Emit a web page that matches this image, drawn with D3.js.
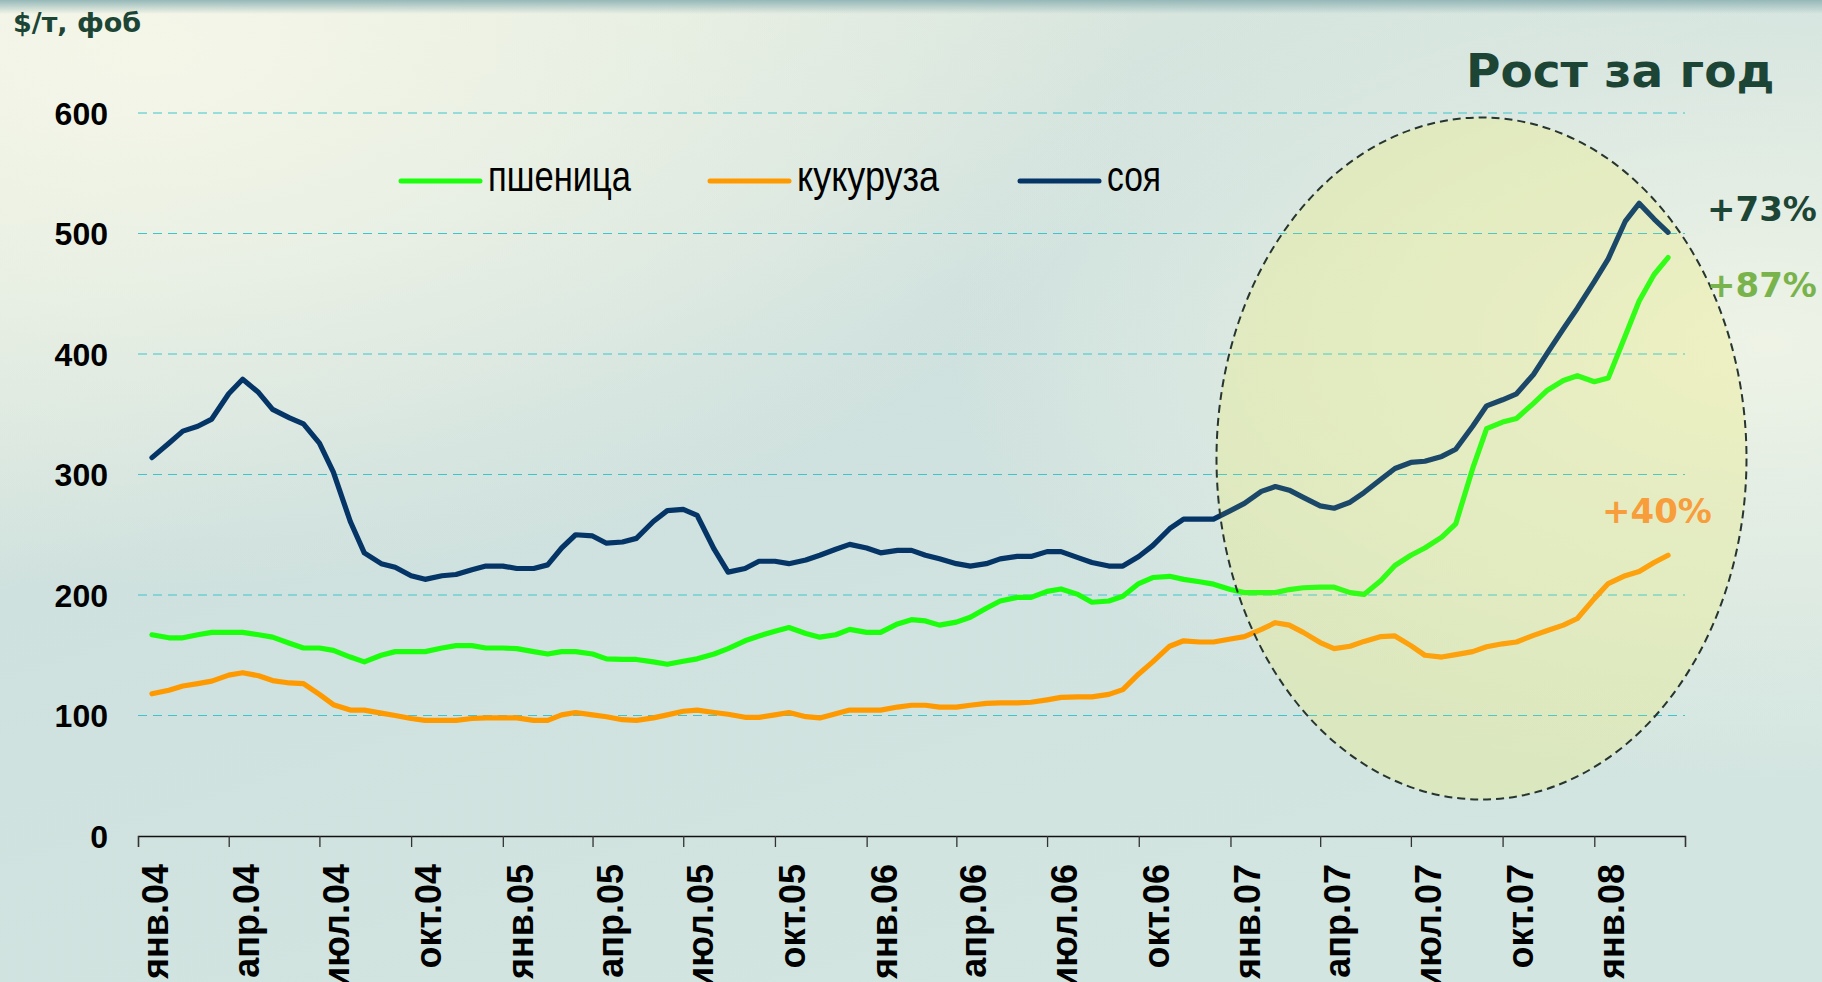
<!DOCTYPE html>
<html>
<head>
<meta charset="utf-8">
<script src="https://cdn.jsdelivr.net/npm/d3@7"></script>
<style>
  html, body { margin: 0; padding: 0; overflow: hidden; }
  svg { display: block; }
</style>
</head>
<body>
<svg id="chart"></svg>
<script>
const width = 1822, height = 982;

// цены, $/т фоб — точки на 15-е и 1-е число каждого месяца, с 15.01.2004 по 15.03.2008
const wheat = [
  167, 164.5, 164.5, 167, 169, 169, 169, 167, 165, 160, 156, 156, 154, 148.5, 144.5, 150, 153, 153, 153, 156, 158, 158, 156,
  156, 155.5, 153, 151, 153, 153, 151, 147, 146.5, 146.5, 144.5, 142.5, 145, 147, 151, 155.5, 162, 166, 170, 173, 168, 165, 167, 171.5,
  169, 169, 176, 179.5, 178.5, 175, 177.5, 181.5, 189, 195, 198, 198, 203, 205, 200.5, 194, 195, 199, 209.5, 214.5, 215.5, 213, 211, 209,
  204.5, 202, 202, 202, 204.5, 206, 206.5, 206.5, 202, 200.5, 212, 224.5, 233, 239, 248, 259, 305, 338, 343.5, 346.5, 359, 370, 378, 382,
  377, 380, 415, 444, 466, 480
];
const corn = [
  118, 121, 124.5, 126.5, 128.5, 133.5, 135.5, 133, 129, 127, 126.5, 117.5, 109, 104.5, 104.5, 102, 100, 97.5, 96, 96, 96, 97.5, 98,
  98, 98, 96, 96, 100.5, 102.5, 100.5, 99, 96.5, 96, 98, 100.5, 103.5, 104.5, 102.5, 101, 98.5, 98.5, 100.5, 102.5, 99, 98, 101.5, 104.5,
  104.5, 104.5, 107, 108.5, 108.5, 107, 107, 108.5, 110, 110.5, 110.5, 111, 113, 115, 115.5, 115.5, 117.5, 121.5, 134.5, 144.5, 157.5, 162, 161, 161,
  163.5, 165.5, 171.5, 177, 175, 169, 160.5, 155.5, 157.5, 161.5, 165.5, 166, 158, 150, 148.5, 150.5, 153, 157, 159.5, 161, 166.5, 170.5, 175, 180.5,
  197, 209.5, 216, 219.5, 227, 233
];
const soy = [
  314, 326, 336, 340, 346, 367, 379, 368, 354, 347, 342, 326, 302, 261, 235, 226, 223, 216, 213, 216, 217, 221, 224,
  224, 222, 222, 225, 239, 250, 249, 243, 244, 247, 261, 270, 271, 266, 238, 219, 222, 228, 228, 226, 229, 233, 238, 242,
  239, 235, 237, 237, 233, 230, 226, 224, 226, 230, 232, 232, 236, 236, 231, 227, 224, 224, 232, 241, 255, 263, 263, 263,
  270, 276, 286, 290, 287, 281, 274, 272, 277, 285, 296, 305, 310, 311, 315, 321, 340, 357, 362, 367, 383, 401, 421, 438,
  460, 479, 510, 525, 512, 501
];

const seriesNames = ['пшеница', 'кукуруза', 'соя'];
const seriesColors = ['#1cff0c', '#ff9900', '#043566'];
const growthLabels = ['+87%', '+40%', '+73%'];

const yTicks = [0, 100, 200, 300, 400, 500, 600];
const xTickLabels = ['янв.04', 'апр.04', 'июл.04', 'окт.04', 'янв.05', 'апр.05', 'июл.05', 'окт.05',
  'янв.06', 'апр.06', 'июл.06', 'окт.06', 'янв.07', 'апр.07', 'июл.07', 'окт.07', 'янв.08'];

// даты точек: 15.01.2004, 01.02, 15.02, ...
const dates = wheat.map((d, i) => new Date(2004, Math.floor((i + 1) / 2), i % 2 ? 1 : 15));

const svg = d3.select('#chart').attr('width', width).attr('height', height);
const defs = svg.append('defs');

// фон
const bg = defs.append('linearGradient').attr('id', 'bg').attr('x1', 0).attr('y1', 0).attr('x2', 0.6).attr('y2', 1);
bg.append('stop').attr('offset', '0%').attr('stop-color', '#e6eddf');
bg.append('stop').attr('offset', '45%').attr('stop-color', '#cfe1de');
bg.append('stop').attr('offset', '100%').attr('stop-color', '#d3e5e1');

const glow1 = defs.append('radialGradient').attr('id', 'glow1').attr('cx', 0.08).attr('cy', 0.05).attr('r', 0.55);
glow1.append('stop').attr('offset', '0%').attr('stop-color', '#f4f6e8').attr('stop-opacity', 1);
glow1.append('stop').attr('offset', '100%').attr('stop-color', '#f4f6e8').attr('stop-opacity', 0);

const glow2 = defs.append('radialGradient').attr('id', 'glow2').attr('cx', 0.97).attr('cy', 0.35).attr('r', 0.45);
glow2.append('stop').attr('offset', '0%').attr('stop-color', '#eef3e6').attr('stop-opacity', 1);
glow2.append('stop').attr('offset', '100%').attr('stop-color', '#eef3e6').attr('stop-opacity', 0);

const topBand = defs.append('linearGradient').attr('id', 'topBand').attr('x1', 0).attr('y1', 0).attr('x2', 0).attr('y2', 1);
topBand.append('stop').attr('offset', '0%').attr('stop-color', '#95b8b8').attr('stop-opacity', 1);
topBand.append('stop').attr('offset', '100%').attr('stop-color', '#95b8b8').attr('stop-opacity', 0);

svg.append('rect').attr('width', width).attr('height', height).attr('fill', 'url(#bg)');
svg.append('rect').attr('width', width).attr('height', height).attr('fill', 'url(#glow1)');
svg.append('rect').attr('width', width).attr('height', height).attr('fill', 'url(#glow2)');
svg.append('rect').attr('width', width).attr('height', 14).attr('fill', 'url(#topBand)');

// шкалы
const x = d3.scaleTime()
  .domain([new Date(2004, 0, 1), new Date(2008, 3, 1)])
  .range([138, 1685]);
const y = d3.scaleLinear().domain([0, 600]).range([836, 113]);

// эллипс "рост за год" — заливка под линиями
const ell = { cx: 1481.5, cy: 458.5, rx: 265, ry: 341 };
svg.append('ellipse')
  .attr('cx', ell.cx).attr('cy', ell.cy).attr('rx', ell.rx).attr('ry', ell.ry)
  .attr('fill', '#f0ee80')
  .attr('fill-opacity', 0.26);

// сетка
svg.append('g')
  .selectAll('line')
  .data(yTicks.filter(d => d > 0))
  .enter()
  .append('line')
  .attr('x1', x.range()[0])
  .attr('x2', x.range()[1])
  .attr('y1', d => y(d))
  .attr('y2', d => y(d))
  .attr('stroke', '#3ec5cb')
  .attr('stroke-width', 1.2)
  .attr('stroke-dasharray', '9,6');

// подписи оси Y
svg.append('g')
  .selectAll('text')
  .data(yTicks)
  .enter()
  .append('text')
  .attr('x', 108)
  .attr('y', d => y(d))
  .attr('dy', '0.36em')
  .attr('text-anchor', 'end')
  .style('font', 'bold 32px "Liberation Sans", Arial, sans-serif')
  .style('fill', '#000')
  .text(d => d);

// ось X
const tickDates = d3.timeMonth.every(3).range(new Date(2004, 0, 1), new Date(2008, 3, 2));
const xAxis = d3.axisBottom(x)
  .tickValues(tickDates)
  .tickSize(11)
  .tickFormat('');
const gx = svg.append('g')
  .attr('transform', 'translate(0,' + y(0) + ')')
  .call(xAxis);
gx.select('.domain').attr('stroke', '#111').attr('stroke-width', 1.3);
gx.selectAll('.tick line').attr('stroke', '#333').attr('stroke-width', 1.3);

svg.append('g')
  .selectAll('text')
  .data(xTickLabels)
  .enter()
  .append('text')
  .attr('transform', (d, i) => 'translate(' + (x(tickDates[i]) + 30) + ',864) rotate(-90)')
  .attr('text-anchor', 'end')
  .style('font', 'bold 36px "Liberation Sans", Arial, sans-serif')
  .style('fill', '#000')
  .text(d => d);

// линии
const line = d3.line()
  .x((d, i) => x(dates[i]))
  .y(d => y(d));

svg.append('g')
  .selectAll('path')
  .data([wheat, corn, soy])
  .enter()
  .append('path')
  .attr('d', line)
  .attr('fill', 'none')
  .attr('stroke', (d, i) => seriesColors[i])
  .attr('stroke-width', 5.2)
  .attr('stroke-linejoin', 'round')
  .attr('stroke-linecap', 'round');

// лёгкая подсветка поверх линий и пунктирный контур
svg.append('ellipse')
  .attr('cx', ell.cx).attr('cy', ell.cy).attr('rx', ell.rx).attr('ry', ell.ry)
  .attr('fill', '#f0ee80')
  .attr('fill-opacity', 0.1)
  .attr('stroke', '#26352f')
  .attr('stroke-width', 2)
  .attr('stroke-dasharray', '8,5');

// легенда
const legendX = [401, 710, 1020];
const legendTextW = [143, 142, 54];
const legend = svg.append('g')
  .selectAll('g')
  .data(seriesNames)
  .enter()
  .append('g')
  .attr('transform', (d, i) => 'translate(' + legendX[i] + ',181)');
legend.append('line')
  .attr('x1', 0).attr('x2', 79)
  .attr('stroke', (d, i) => seriesColors[i])
  .attr('stroke-width', 5)
  .attr('stroke-linecap', 'round');
legend.append('text')
  .attr('x', 87)
  .attr('y', 10)
  .attr('textLength', (d, i) => legendTextW[i])
  .attr('lengthAdjust', 'spacingAndGlyphs')
  .style('font', '42px "Liberation Sans Narrow", "Arial Narrow", "Liberation Sans", sans-serif')
  .style('fill', '#000')
  .text(d => d);

// подписи
svg.append('text')
  .attr('x', 13).attr('y', 32)
  .style('font', 'bold 27px "DejaVu Sans", Verdana, sans-serif')
  .style('fill', '#1d4535')
  .text('$/т, фоб');

svg.append('text')
  .attr('x', 1466).attr('y', 87)
  .style('font', 'bold 47px "DejaVu Sans", Verdana, sans-serif')
  .style('fill', '#1d4535')
  .text('Рост за год');

const growthPos = [[1707, 297], [1602, 523], [1707, 221]];
const growthColors = ['#79b34b', '#f89d3c', '#1d4535'];
svg.append('g')
  .selectAll('text')
  .data(growthLabels)
  .enter()
  .append('text')
  .attr('x', (d, i) => growthPos[i][0])
  .attr('y', (d, i) => growthPos[i][1])
  .style('font', 'bold 34px "DejaVu Sans", Verdana, sans-serif')
  .style('fill', (d, i) => growthColors[i])
  .text(d => d);
</script>
</body>
</html>
